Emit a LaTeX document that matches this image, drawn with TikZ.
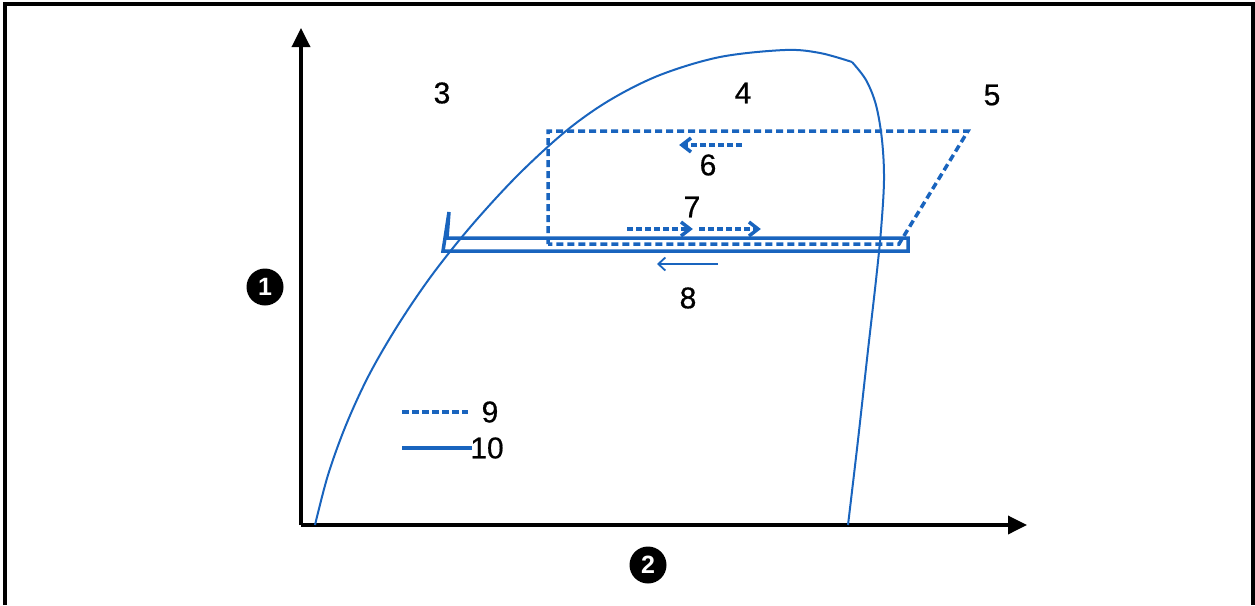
\documentclass[tikz,border=0pt]{standalone}
\usepackage{fontspec}
\setmainfont{Liberation Sans}
\newfontfamily\lblfont{Liberation Sans}[FakeBold=0.6]
\usetikzlibrary{arrows.meta}
\definecolor{cblue}{RGB}{25,100,190}
\begin{document}
\begin{tikzpicture}[x=1pt,y=-1pt,
  lbl/.style={font=\lblfont\fontsize{30}{32}\selectfont, text=black, inner sep=0pt},
  badge/.style={circle, fill=black, minimum size=37pt, inner sep=0pt, text=white, font=\fontsize{25}{27}\selectfont\bfseries},
  axis/.style={line width=3.5pt, -{Triangle[length=19pt,width=18pt]}},
  dome/.style={cblue, line width=2pt},
  dsh/.style={cblue, line width=3.5pt, dash pattern=on 7pt off 4pt},
  solidbar/.style={cblue, line width=3.5pt, line join=miter},
  darrow/.style={cblue, line width=3.5pt, dash pattern=on 6pt off 3pt},
  chev/.style={cblue, line width=3.5pt, line join=miter},
  tarrow/.style={cblue, line width=1.8pt, -{Straight Barb[length=7pt,width=13pt]}},
  legd/.style={cblue, line width=4pt, dash pattern=on 7pt off 3pt},
  legs/.style={cblue, line width=4pt}
]
\useasboundingbox (0,0) rectangle (1255,605);
% frame
\draw[line width=3.5pt] (5,605) -- (5,4) -- (1253,4) -- (1253,605);
% axes
\coordinate (O) at (301,525);
\coordinate (ytop) at (301,28);
\coordinate (xend) at (1027,525);
\draw[axis] (O) -- (ytop);
\draw[axis] (O) -- (xend);
\node[badge] (b1) at (265,287) {1};
\node[badge] (b2) at (648,565) {2};
% dome
\draw[dome] plot[smooth, tension=0.55] coordinates {(315,525) (328,475) (346,425) (369,375) (398,325) (432,275) (472,225) (518,175) (566,131) (610,100) (660,75) (720,57) (785,50) (820,53) (852,62)};
\draw[dome] plot[smooth, tension=0.55] coordinates {(852,62) (866,80) (876,105) (882,140) (884,180) (881,230) (876,280) (868,350) (858,440) (848,525)};
% dashed cycle
\coordinate (d1) at (548,244);
\coordinate (d2) at (548,131);
\coordinate (d3) at (968,131);
\coordinate (d4) at (899,244);
\draw[dsh] (d1) -- (d2) -- (d3) -- (d4) -- cycle;
% solid cycle
\coordinate (s0) at (449,212);
\coordinate (s1) at (447,238);
\coordinate (s2) at (908,238);
\coordinate (s3) at (908,251);
\coordinate (s4) at (443,251);
\draw[solidbar] (s0) -- (s1) -- (s2) -- (s3) -- (s4) -- cycle;
% direction arrows
\coordinate (a6s) at (742,145); \coordinate (a6e) at (682,145);
\draw[darrow] (a6s) -- (a6e);
\draw[chev] ([shift={(9,-7)}]a6e) -- (a6e) -- ([shift={(9,7)}]a6e);
\coordinate (a7s) at (627,229); \coordinate (a7e) at (690,229);
\draw[darrow] (a7s) -- (a7e);
\draw[chev] ([shift={(-9,-7)}]a7e) -- (a7e) -- ([shift={(-9,7)}]a7e);
\coordinate (a7bs) at (699,229); \coordinate (a7be) at (758,229);
\draw[darrow] (a7bs) -- (a7be);
\draw[chev] ([shift={(-9,-7)}]a7be) -- (a7be) -- ([shift={(-9,7)}]a7be);
\coordinate (a8s) at (718,264); \coordinate (a8e) at (657,264);
\draw[tarrow] (a8s) -- (a8e);
% labels
\node[lbl] (l3) at (442,93) {3};
\node[lbl] (l4) at (743,93) {4};
\node[lbl] (l5) at (992,95) {5};
\node[lbl] (l6) at (708,165) {6};
\node[lbl] (l7) at (692,207) {7};
\node[lbl] (l8) at (688,298) {8};
% legend
\node[lbl] (l9) at (490,412) {9};
\node[lbl] (l10) at (487,448) {10};
\coordinate (g1a) at (402,412); \coordinate (g1b) at (468,412);
\coordinate (g2a) at (402,448); \coordinate (g2b) at (472,448);
\draw[legd] (g1a) -- (g1b);
\draw[legs] (g2a) -- (g2b);
\end{tikzpicture}
\end{document}
